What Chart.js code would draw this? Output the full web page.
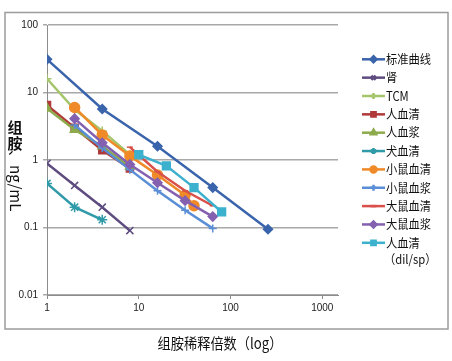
<!DOCTYPE html>
<html>
<head>
<meta charset="utf-8">
<script src="https://cdn.jsdelivr.net/npm/chart.js@4.4.0/dist/chart.umd.min.js"></script>
<style>
  body { margin: 0; background: #fff; }
  #wrap { width: 452px; height: 361px; position: relative; }
</style>
</head>
<body>
<div id="wrap"><canvas id="chart"></canvas></div>
<script>
// series labels (legend order)
const seriesLabels = ['标准曲线', '肾', 'TCM', '人血清', '人血浆', '犬血清', '小鼠血清', '小鼠血浆', '大鼠血清', '大鼠血浆', '人血清\n（dil/sp）'];

// dilution factors (x) and concentrations ng/mL (y)
const standardX = [1, 4, 16, 64, 256];
const standardY = [31, 5.7, 1.6, 0.39, 0.094];
const kidneyX = [1, 2, 4, 8];
const kidneyY = [0.89, 0.42, 0.2, 0.09];
const tcmX = [1, 2, 4, 8];
const tcmY = [16, 5.6, 2.7, 1.2];
const humanSerumX = [1, 2, 4, 8];
const humanSerumY = [6.5, 3.0, 1.4, 0.75];
const humanPlasmaX = [1, 2, 4, 8];
const humanPlasmaY = [5.8, 2.8, 1.6, 0.8];
const dogSerumX = [1, 2, 4];
const dogSerumY = [0.45, 0.2, 0.13];
const mouseSerumX = [2, 4, 8, 16, 32, 40];
const mouseSerumY = [6.0, 2.35, 1.15, 0.6, 0.3, 0.21];
const mousePlasmaX = [2, 4, 8, 16, 32, 64];
const mousePlasmaY = [3.3, 1.5, 0.72, 0.35, 0.18, 0.097];
const ratSerumX = [8, 16, 32, 64];
const ratSerumY = [1.55, 0.67, 0.35, 0.21];
const ratPlasmaX = [2, 4, 8, 16, 32, 64];
const ratPlasmaY = [4.1, 1.8, 0.86, 0.46, 0.25, 0.145];
const dilSpX = [10, 20, 40, 80];
const dilSpY = [1.2, 0.82, 0.39, 0.17];

const xTicks = [1, 10, 100, 1000];
const yTicks = [0.01, 0.1, 1, 10, 100];
const xTitle = '组胺稀释倍数（log）';

const allX = [standardX, kidneyX, tcmX, humanSerumX, humanPlasmaX, dogSerumX, mouseSerumX, mousePlasmaX, ratSerumX, ratPlasmaX, dilSpX];
const allY = [standardY, kidneyY, tcmY, humanSerumY, humanPlasmaY, dogSerumY, mouseSerumY, mousePlasmaY, ratSerumY, ratPlasmaY, dilSpY];

const colors = ['#3a64ab', '#5e4c80', '#a5c56a', '#b0393a', '#8dab4c', '#2f9aa8', '#f08a28', '#5a8ed6', '#d9504a', '#8460b0', '#3cb1cd'];
const styles = [
    { pointStyle: 'rectRot', radius: 4.5 },
    { pointStyle: 'crossRot', radius: 5 },
    { pointStyle: 'cross', radius: 4.5 },
    { pointStyle: 'rect', radius: 5 },
    { pointStyle: 'triangle', radius: 5 },
    { pointStyle: 'star', radius: 5 },
    { pointStyle: 'circle', radius: 5 },
    { pointStyle: 'cross', radius: 4 },
    { pointStyle: 'line', radius: 3 },
    { pointStyle: 'rectRot', radius: 4.5 },
    { pointStyle: 'rect', radius: 5.5 },
];

const datasets = seriesLabels.map((label, i) => ({
    label: label,
    data: allX[i].map((x, j) => ({ x: x, y: allY[i][j] })),
    showLine: true,
    borderColor: colors[i],
    backgroundColor: colors[i],
    borderWidth: 2.5,
    pointStyle: styles[i].pointStyle,
    pointRadius: styles[i].radius,
    pointBorderWidth: 1.5,
    pointBorderColor: colors[i],
    pointBackgroundColor: colors[i],
    order: -i,
}));

// border, titles and legend drawn by hand
const decorPlugin = {
    id: 'decor',
    beforeDraw(chart) {
        const ctx = chart.ctx;
        ctx.save();
        ctx.fillStyle = '#fff';
        ctx.fillRect(0, 0, chart.width, chart.height);
        ctx.strokeStyle = '#9c9c9c';
        ctx.lineWidth = 1.5;
        ctx.strokeRect(5, 12.5, 443, 316.5);
        ctx.restore();
    },
    afterDraw(chart) {
        const ctx = chart.ctx;
        ctx.save();
        ctx.fillStyle = '#111';

        // x title, a bit narrow like the original font
        ctx.save();
        ctx.translate(220, 343);
        ctx.scale(0.88, 1);
        ctx.font = '15px "Noto Sans CJK SC"';
        ctx.textAlign = 'center';
        ctx.textBaseline = 'middle';
        ctx.fillText(xTitle, 0, 0);
        ctx.restore();

        // y title: CJK upright, latin rotated
        ctx.font = 'bold 15px "Noto Sans CJK SC"';
        ctx.textAlign = 'center';
        ctx.textBaseline = 'middle';
        ctx.fillText('组', 15, 127);
        ctx.fillText('胺', 15, 143);
        ctx.translate(16, 150);
        ctx.rotate(Math.PI / 2);
        ctx.textAlign = 'left';
        ctx.font = '15px "Noto Sans CJK SC"';
        ctx.fillText('、ng/mL', 0, 0);
        ctx.restore();

        // legend
        ctx.save();
        chart.data.datasets.forEach((ds, i) => {
            const y = 59.3 + i * 18.35;
            ctx.strokeStyle = ds.borderColor;
            ctx.lineWidth = 2.5;
            ctx.beginPath();
            ctx.moveTo(362, y);
            ctx.lineTo(385, y);
            ctx.stroke();
            ctx.fillStyle = ds.borderColor;
            Chart.helpers.drawPoint(ctx, {
                pointStyle: ds.pointStyle,
                radius: Math.min(ds.pointRadius, 3),
                rotation: 0,
                borderWidth: 1,
            }, 373.5, y);
            ctx.fillStyle = '#111';
            ctx.font = '12.5px "Noto Sans CJK SC"';
            ctx.textAlign = 'left';
            ctx.textBaseline = 'middle';
            ds.label.split('\n').forEach((line, k) => {
                ctx.save();
                ctx.translate(k === 0 ? 386 : 384, y + k * 16);
                ctx.scale(0.9, 1);
                ctx.fillText(line, 0, 0);
                ctx.restore();
            });
        });
        ctx.restore();
    }
};

new Chart(document.getElementById('chart'), {
    type: 'scatter',
    data: { datasets: datasets },
    options: {
        responsive: true,
        maintainAspectRatio: false,
        animation: false,
        devicePixelRatio: 1,
        layout: {
            padding: { top: 25, right: 114, left: 0, bottom: 0 }
        },
        plugins: {
            legend: { display: false },
            tooltip: { enabled: false },
            title: { display: false }
        },
        scales: {
            x: {
                type: 'logarithmic',
                min: 1,
                max: 1483,
                afterBuildTicks: (scale) => {
                    scale.ticks = xTicks.map(v => ({ value: v }));
                },
                afterFit: (scale) => { scale.height = 66; },
                grid: {
                    drawOnChartArea: false,
                    drawTicks: true,
                    tickLength: 4,
                    color: '#8c8c8c'
                },
                border: { color: '#8c8c8c', width: 1 },
                ticks: {
                    autoSkip: false,
                    maxRotation: 0,
                    padding: 3,
                    color: '#222',
                    font: { family: '"Liberation Sans", Arial', size: 10 },
                    callback: (v) => String(v)
                }
            },
            y: {
                type: 'logarithmic',
                min: 0.01,
                max: 100,
                afterBuildTicks: (scale) => {
                    scale.ticks = yTicks.map(v => ({ value: v }));
                },
                afterFit: (scale) => { scale.width = 47; },
                grid: {
                    drawTicks: true,
                    tickLength: 4,
                    color: '#a8a8a8',
                    lineWidth: 1.5
                },
                border: { color: '#8c8c8c', width: 1 },
                ticks: {
                    autoSkip: false,
                    padding: 5,
                    color: '#222',
                    font: { family: '"Liberation Sans", Arial', size: 10 },
                    callback: (v) => String(v)
                }
            }
        }
    },
    plugins: [decorPlugin]
});
</script>
</body>
</html>
